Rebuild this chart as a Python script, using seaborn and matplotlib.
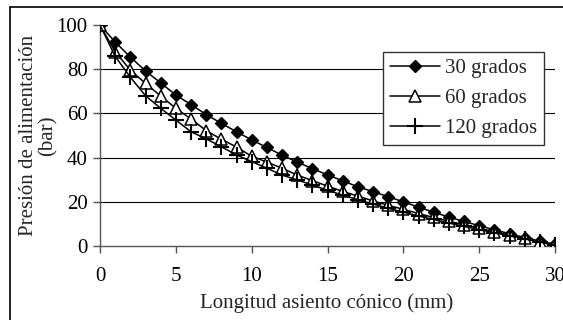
import numpy as np
import pandas as pd
import matplotlib
matplotlib.use("Agg")
import matplotlib.pyplot as plt
import seaborn as sns
from matplotlib.lines import Line2D

# Values
longitud = list(range(0, 31))
grados_30 = [100, 92.3, 85.5, 79.2, 73.8, 68.3, 64.0, 59.5, 55.5, 51.7, 48.0,
             44.6, 41.1, 38.0, 35.0, 32.2, 29.5, 26.8, 24.6, 22.3, 20.0,
             17.6, 15.3, 13.1, 11.1, 9.2, 7.3, 5.6, 3.8, 2.2, 0.8]
grados_60 = [100, 87.9, 79.6, 73.6, 67.9, 62.3, 57.5, 52.2, 48.3, 44.8, 40.6,
             38.0, 35.2, 32.1, 29.6, 27.1, 24.7, 22.6, 20.4, 18.4, 16.6,
             14.7, 12.9, 11.2, 9.6, 8.0, 6.4, 4.9, 3.4, 1.9, 0.3]
grados_120 = [100, 85.8, 76.4, 68.0, 62.3, 57.0, 51.7, 48.5, 44.9, 41.2, 38.2,
              35.2, 32.1, 29.9, 27.6, 25.2, 23.0, 21.0, 19.0, 17.1, 15.3,
              13.6, 12.0, 10.4, 8.9, 7.4, 6.0, 4.6, 3.2, 1.8, 0.3]
series = ["30 grados", "60 grados", "120 grados"]

df = pd.DataFrame({"x": longitud, "30 grados": grados_30,
                   "60 grados": grados_60, "120 grados": grados_120})

sns.set_theme(style="white")
plt.rcParams['font.family'] = ['Liberation Serif', 'DejaVu Serif']
fs = 15

fig = plt.figure(figsize=(5.63, 3.2), dpi=100)
ax = fig.add_axes([100/563, 1-246/320, 455/563, 221/320])

styles = {
    "30 grados": dict(marker="D", markersize=6.5, markerfacecolor="black",
                      markeredgewidth=1.0),
    "60 grados": dict(marker="^", markersize=8, markerfacecolor="white",
                      markeredgewidth=1.1),
    "120 grados": dict(marker="+", markersize=11, markeredgewidth=1.5),
}
for s in series:
    sns.lineplot(data=df, x="x", y=s, ax=ax, color="black", linewidth=1.1,
                 markeredgecolor="black", label=s, zorder=3, **styles[s])
for line, s in zip(ax.lines, series):
    line.set_markeredgewidth(styles[s]["markeredgewidth"])

ax.set_xlim(0, 30)
ax.set_ylim(0, 100)
ax.set_xticks([0, 5, 10, 15, 20, 25, 30])
ax.set_yticks([0, 20, 40, 60, 80, 100])
for yv in [20, 40, 60, 80]:
    ax.axhline(yv, color="black", linewidth=0.8, zorder=1)

for sp in ["top", "right"]:
    ax.spines[sp].set_visible(False)
for sp in ["left", "bottom"]:
    ax.spines[sp].set_color("#555555")
    ax.spines[sp].set_linewidth(1.0)
ax.tick_params(axis="both", direction="out", length=5, width=1.0,
               color="#555555", labelsize=fs, labelcolor="black")
ax.tick_params(axis="x", pad=10)
ax.tick_params(axis="y", pad=4)
ax.tick_params(left=True, bottom=True)
for lab in ax.get_xticklabels() + ax.get_yticklabels():
    lab.set_clip_on(False)

ax.set_xlabel("Longitud asiento cónico (mm)", fontsize=fs)
ax.xaxis.label.set_va("center")
ax.xaxis.set_label_coords(0.499, -0.26)
ax.set_ylabel("Presión de alimentación\n(bar)", fontsize=fs, linespacing=1.0)
ax.yaxis.label.set_va("center")
ax.yaxis.set_label_coords(-0.135, 0.5)

leg = ax.legend(loc="upper left", bbox_to_anchor=(0.622, 0.878), fontsize=fs,
                frameon=True, fancybox=False, framealpha=1, edgecolor="#333333",
                handlelength=2.4, handletextpad=0.25, labelspacing=0.5,
                borderpad=0.32, borderaxespad=0)
leg.get_frame().set_linewidth(1.0)

# outer chart border (left and top visible, rest cropped)
fig.add_artist(Line2D([10/563, 10/563], [0, 1-7/320], transform=fig.transFigure,
                      color="black", linewidth=1.2))
fig.add_artist(Line2D([10/563, 1], [1-7/320, 1-7/320], transform=fig.transFigure,
                      color="black", linewidth=1.2))

fig.savefig("out.png", dpi=100)
